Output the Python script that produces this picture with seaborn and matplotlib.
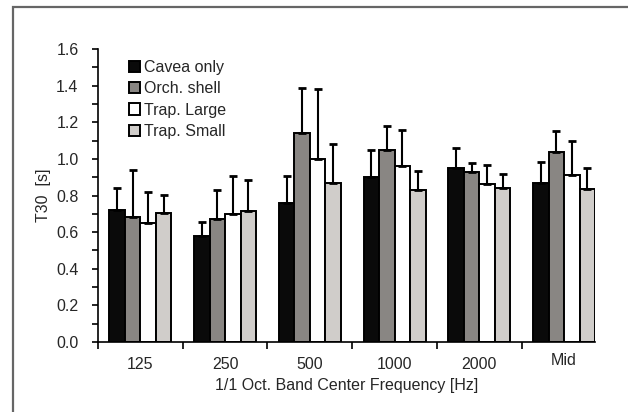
import matplotlib
matplotlib.use("Agg")
import matplotlib.pyplot as plt
import matplotlib.transforms as mtransforms
from matplotlib.patches import Rectangle
from matplotlib.ticker import MultipleLocator
import seaborn as sns
import pandas as pd
import numpy as np

bands = ["125", "250", "500", "1000", "2000", "Mid"]
series = ["Cavea only", "Orch. shell", "Trap. Large", "Trap. Small"]
cavea = [0.72, 0.58, 0.76, 0.90, 0.95, 0.87]
orch = [0.68, 0.67, 1.14, 1.05, 0.93, 1.04]
trap_large = [0.65, 0.70, 1.00, 0.96, 0.865, 0.91]
trap_small = [0.705, 0.715, 0.87, 0.83, 0.84, 0.835]
cavea_err = [0.12, 0.075, 0.145, 0.15, 0.11, 0.115]
orch_err = [0.26, 0.16, 0.245, 0.13, 0.045, 0.11]
trap_large_err = [0.17, 0.205, 0.38, 0.20, 0.10, 0.185]
trap_small_err = [0.10, 0.17, 0.21, 0.105, 0.08, 0.115]

colors = ["#0a0a0a", "#898683", "#ffffff", "#d0cdca"]

vals = [cavea, orch, trap_large, trap_small]
errs = [cavea_err, orch_err, trap_large_err, trap_small_err]
rows = []
for s, v, e in zip(series, vals, errs):
    for b, vv, ee in zip(bands, v, e):
        rows.append({"band": b, "series": s, "T30": vv, "err": ee})
df = pd.DataFrame(rows)

sns.set_style("white")
plt.rcParams["font.family"] = ["Liberation Sans", "DejaVu Sans"]
FS = 11.5

fig = plt.figure(figsize=(6.28, 4.12), dpi=100)
ax = fig.add_axes([98 / 628, 1 - 342 / 412, (595 - 98) / 628, (342 - 49) / 412])

sns.barplot(data=df, x="band", y="T30", hue="series", order=bands,
            hue_order=series, palette=colors, width=0.73, errorbar=None,
            edgecolor="black", linewidth=1.4, ax=ax, saturation=1)

# error bars (upper only)
bars = [p for p in ax.patches if p.get_height() > 0]
bars = sorted(bars, key=lambda p: p.get_x())
err_map = {(r.band, r.series): r.err for r in df.itertuples()}
for gi, b in enumerate(bands):
    group = [p for p in bars if abs(p.get_x() + p.get_width() / 2 - gi) < 0.5]
    group = sorted(group, key=lambda p: p.get_x())
    for p, s in zip(group, series):
        xc = p.get_x() + p.get_width() / 2
        ax.errorbar(xc, p.get_height(), yerr=[[0], [err_map[(b, s)]]],
                    fmt="none", ecolor="black", elinewidth=1.5, capsize=3,
                    capthick=2, zorder=1)

ax.set_ylim(0, 1.6)
ax.set_xlim(-0.5, 5.365)
ax.yaxis.set_major_locator(MultipleLocator(0.2))
ax.yaxis.set_minor_locator(MultipleLocator(0.1))
ax.yaxis.set_major_formatter(matplotlib.ticker.FormatStrFormatter("%.1f"))
ax.set_xticks(np.arange(len(bands)))
ax.set_xticklabels(bands)
ax.set_xticks(np.arange(len(bands)) - 0.5, minor=True)
ax.tick_params(axis="x", which="major", length=0, pad=11, labelsize=FS)
ax.tick_params(axis="x", which="minor", length=5, width=1.2, direction="out", color="black", bottom=True)
ax.tick_params(axis="y", which="major", length=4, width=1.2, direction="out", color="black", labelsize=FS, pad=10, left=True)
ax.tick_params(axis="y", which="minor", length=4, width=1.2, direction="out", color="black", left=True)

for sp in ["top", "right"]:
    ax.spines[sp].set_visible(False)
for sp in ["left", "bottom"]:
    ax.spines[sp].set_color("black")
    ax.spines[sp].set_linewidth(1.2)

# Mid label sits slightly higher
lab = ax.get_xticklabels()[-1]
lab.set_transform(lab.get_transform() + mtransforms.ScaledTranslation(0, 4 / 100, fig.dpi_scale_trans))

ax.set_xlabel("1/1 Oct. Band Center Frequency [Hz]", fontsize=FS, labelpad=4)
ax.set_ylabel("T30  [s]", fontsize=FS, labelpad=4)

leg = ax.legend(loc="upper left", bbox_to_anchor=(0.05, 0.985), frameon=False,
                fontsize=FS, handlelength=0.7, handleheight=0.7,
                handletextpad=0.25, labelspacing=0.4, borderaxespad=0)

fig.patches.append(Rectangle((13 / 628, -0.1), 1.2, 1 - 7.5 / 412 + 0.1,
                             transform=fig.transFigure, fill=False,
                             edgecolor="#666666", linewidth=1.6, zorder=0))

fig.savefig("out.png", dpi=100)
